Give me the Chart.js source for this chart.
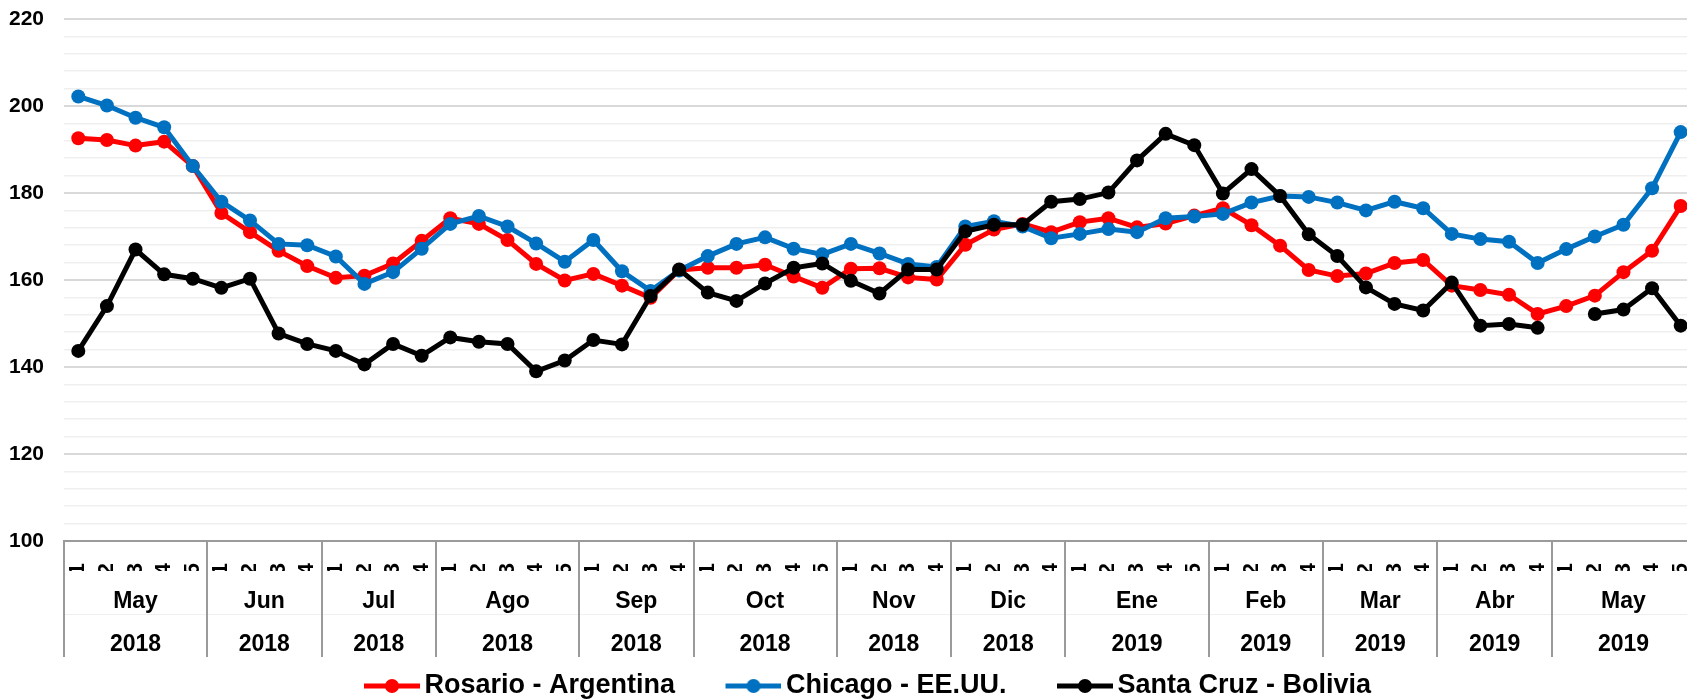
<!DOCTYPE html>
<html>
<head>
<meta charset="utf-8">
<script src="https://cdn.jsdelivr.net/npm/chart.js@4/dist/chart.umd.min.js"></script>
<style>
  html, body { margin: 0; padding: 0; background: #fff; overflow: hidden; }
  #wrap { width: 1702px; height: 699px; }
</style>
</head>
<body>
<div id="wrap"><canvas id="precios" width="1702" height="699"></canvas></div>
<script>
// Meses y semanas del eje X
const meses = ['May', 'Jun', 'Jul', 'Ago', 'Sep', 'Oct', 'Nov', 'Dic', 'Ene', 'Feb', 'Mar', 'Abr', 'May'];
const anios = ['2018', '2018', '2018', '2018', '2018', '2018', '2018', '2018', '2019', '2019', '2019', '2019', '2019'];
const semanasPorMes = [5, 4, 4, 5, 4, 5, 4, 4, 5, 4, 4, 4, 5];

// Series (precio semanal)
const rosario = [
  192.6, 192.2, 190.9, 191.8, 186.2, 175.4, 171.0, 166.7, 163.2, 160.5,
  161.0, 163.8, 169.0, 174.2, 172.9, 169.2, 163.7, 159.9, 161.4, 158.7,
  155.9, 162.3, 162.8, 162.8, 163.5, 160.8, 158.2, 162.6, 162.7, 160.6,
  160.1, 168.1, 171.6, 172.9, 171.0, 173.3, 174.2, 172.1, 173.0, 174.8,
  176.5, 172.6, 167.9, 162.3, 160.9, 161.5, 163.9, 164.6, 158.7, 157.7,
  156.6, 152.2, 154.0, 156.4, 161.8, 166.7, 177.0
];
const chicago = [
  202.2, 200.1, 197.3, 195.1, 186.2, 178.0, 173.7, 168.3, 168.0, 165.4,
  159.1, 161.8, 167.2, 172.9, 174.7, 172.3, 168.4, 164.2, 169.2, 162.0,
  157.5, 162.2, 165.5, 168.3, 169.8, 167.2, 165.9, 168.3, 166.1, 163.7,
  163.0, 172.3, 173.5, 172.3, 169.6, 170.6, 171.7, 171.0, 174.2, 174.6,
  175.2, 177.8, 179.3, 179.1, 177.8, 176.0, 178.0, 176.5, 170.6, 169.4,
  168.8, 163.9, 167.1, 170.0, 172.7, 181.1, 194.0
];
const santaCruz = [
  143.7, 154.0, 167.0, 161.3, 160.3, 158.2, 160.3, 147.7, 145.3, 143.7,
  140.6, 145.3, 142.6, 146.8, 145.8, 145.3, 139.0, 141.5, 146.2, 145.2,
  156.3, 162.4, 157.1, 155.2, 159.2, 162.8, 163.8, 159.8, 156.9, 162.4,
  162.4, 171.2, 172.7, 172.7, 178.0, 178.6, 180.1, 187.5, 193.6, 191.0,
  179.9, 185.5, 179.3, 170.5, 165.5, 158.3, 154.5, 153.0, 159.4, 149.5,
  149.9, 149.0, null, 152.2, 153.2, 158.1, 149.5
];

const colores = { rosario: '#FF0000', chicago: '#0070C0', santaCruz: '#000000' };

// Etiquetas de semana, inicio y centro de cada mes
const semanas = [];
const iniciosMes = [];
const centrosMes = [];
let acc = 0;
semanasPorMes.forEach(n => {
  iniciosMes.push(acc);
  centrosMes.push(acc + (n - 1) / 2);
  for (let s = 1; s <= n; s++) semanas.push(String(s));
  acc += n;
});
iniciosMes.push(acc);

Chart.defaults.font.family = "'Liberation Sans', Arial, sans-serif";
Chart.defaults.color = '#000';

// Simbolo de leyenda: linea con punto
function simbolo(color) {
  const c = document.createElement('canvas');
  c.width = 100;
  c.height = 16;
  const g = c.getContext('2d');
  g.strokeStyle = color;
  g.lineWidth = 5;
  g.beginPath();
  g.moveTo(44, 8);
  g.lineTo(100, 8);
  g.stroke();
  g.fillStyle = color;
  g.beginPath();
  g.arc(72, 8, 7, 0, Math.PI * 2);
  g.fill();
  return c;
}

// Lineas verticales que separan los meses en el eje
const separadores = {
  id: 'separadores',
  afterDraw(chart) {
    const sx = chart.scales.x;
    const fin = chart.scales.xAnio.bottom;
    const g = chart.ctx;
    g.save();
    g.strokeStyle = '#9a9a9a';
    g.lineWidth = 2;
    iniciosMes.forEach(b => {
      const px = Math.round(sx.getPixelForValue(b - 0.5));
      g.beginPath();
      g.moveTo(px, sx.top);
      g.lineTo(px, fin);
      g.stroke();
    });
    g.restore();
  }
};

function serie(label, data, color, order) {
  return {
    label: label,
    data: data,
    borderColor: color,
    backgroundColor: color,
    borderWidth: 5,
    pointRadius: 7,
    pointHoverRadius: 7,
    pointBorderWidth: 0,
    pointBackgroundColor: color,
    spanGaps: false,
    tension: 0,
    order: order
  };
}

function filaEje(peso, textos, borde) {
  return {
    type: 'linear',
    position: 'bottom',
    weight: peso,
    min: -0.5,
    max: semanas.length - 0.5,
    grid: { display: false },
    border: borde,
    afterBuildTicks: s => { s.ticks = centrosMes.map(v => ({ value: v })); },
    afterFit: s => { s.height = 43; s.paddingLeft = 0; s.paddingRight = 0; },
    ticks: {
      autoSkip: true,
      maxRotation: 0,
      padding: 8.7,
      font: { size: 23, weight: 'bold' },
      callback: (v, i) => textos[i]
    }
  };
}

const ctx = document.getElementById('precios').getContext('2d');
const grafico = new Chart(ctx, {
  type: 'line',
  data: {
    labels: semanas,
    datasets: [
      serie('Rosario - Argentina', rosario, colores.rosario, 3),
      serie('Chicago - EE.UU.', chicago, colores.chicago, 2),
      serie('Santa Cruz - Bolivia', santaCruz, colores.santaCruz, 1)
    ]
  },
  plugins: [separadores],
  options: {
    responsive: false,
    animation: false,
    layout: { padding: { top: 19, right: 2, bottom: -10.5, left: 0 } },
    plugins: {
      tooltip: { enabled: false },
      legend: {
        position: 'bottom',
        labels: {
          usePointStyle: true,
          pointStyleWidth: 82,
          padding: 15.5,
          font: { size: 27, weight: 'bold' },
          color: '#000',
          generateLabels: chart => chart.data.datasets.map((ds, i) => ({
            text: ds.label,
            fillStyle: ds.borderColor,
            strokeStyle: ds.borderColor,
            lineWidth: 0,
            pointStyle: simbolo(ds.borderColor),
            fontColor: '#000',
            hidden: false,
            datasetIndex: i
          }))
        }
      }
    },
    scales: {
      y: {
        min: 100,
        max: 220,
        afterFit: s => { s.width = 64; s.paddingTop = 0; s.paddingBottom = 0; },
        ticks: {
          stepSize: 4,
          autoSkip: false,
          padding: 20,
          font: { size: 21, weight: 'bold' },
          callback: v => (v % 20 === 0 ? v : '')
        },
        grid: {
          drawTicks: false,
          color: c => (c.tick && c.tick.value % 20 === 0 ? '#d9d9d9' : '#efefef'),
          lineWidth: c => (c.tick && c.tick.value % 20 === 0 ? 2 : 1.5)
        },
        border: { display: false }
      },
      x: {
        type: 'category',
        offset: true,
        weight: 0,
        grid: { display: false },
        border: { display: true, color: '#9a9a9a', width: 2 },
        afterFit: s => { s.height = 30; s.paddingLeft = 0; s.paddingRight = 0; },
        ticks: {
          autoSkip: true,
          autoSkipPadding: 0,
          minRotation: 90,
          maxRotation: 90,
          padding: 14,
          font: { size: 22, weight: 'bold', lineHeight: 1 }
        }
      },
      xMes: filaEje(1, meses, { display: false }),
      xAnio: filaEje(2, anios, { display: true, color: '#efefef', width: 1 })
    }
  }
});
</script>
</body>
</html>
